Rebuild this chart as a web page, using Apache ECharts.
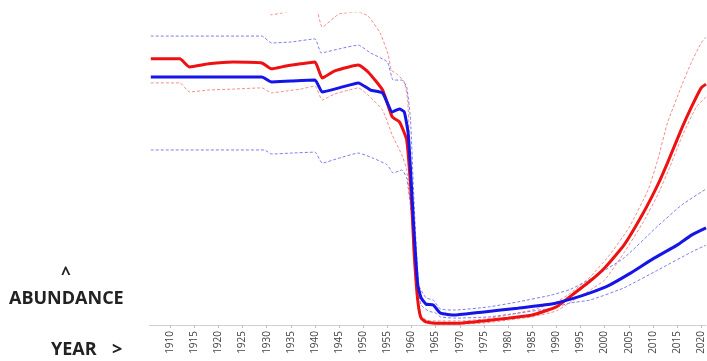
<!DOCTYPE html>
<html>
<head>
<meta charset="utf-8">
<script src="https://cdn.jsdelivr.net/npm/echarts@6/dist/echarts.min.js"></script>
<style>
html,body{margin:0;padding:0;background:#fff;}
#chart{width:707px;height:361px;}
</style>
</head>
<body>
<div id="chart"></div>
<script>
// Axis ticks (years)
const xMin = 1905, xMax = 2021, xStep = 5;

// Red series (central estimate)
const redYears = [1906,1912,1914,1918,1923,1929,1931,1934,1937,1940,1941.5,1944,1947,1949,1951,1954,1956,1957.5,1959,1960,1960.5,1961,1961.5,1962,1963,1965,1970,1975,1980,1985,1990,1993,1997,2000,2004,2008,2011,2013,2016,2018,2020,2021];
const redValues = [85.3,85.3,82.7,83.7,84.3,84.0,82.1,83.0,83.7,84.3,79.2,81.4,82.7,83.3,81.1,75.3,66.7,65.1,59.3,40.1,24.0,12.8,5.4,2.2,1.0,0.6,0.6,1.3,2.2,3.2,5.8,9.3,14.1,18.3,25.6,35.9,44.9,51.9,63.1,69.9,76.0,77.2];

// Red upper bound
const redUpYears = [1906,1912,1914,1929,1931,1934,1940,1941.5,1945,1949,1951,1953.5,1955.2,1955.8,1957,1958.5,1959.2,1959.6,1960,1960.5,1961,1961.5,1962,1963,1965,1970,1975,1980,1985,1990,1993,1997,2001,2005,2009,2011,2013,2016,2018,2020,2021];
const redUpValues = [107.4,107.4,104.2,103.5,99.4,100.3,102.2,95.5,99.7,100.3,99.0,93.6,86.5,81.7,80.4,77.9,72.1,59.3,43.3,25.6,13.5,6.4,3.2,1.6,1.3,1.3,1.9,3.2,4.8,7.4,10.3,15.4,22.4,31.1,43.3,52.9,64.7,76.9,84.3,90.4,92.3];

// Red lower bound
const redLoYears = [1906,1912,1914,1918,1923,1929,1931,1934,1937,1940,1941.5,1944,1947,1949,1951,1954,1956,1958,1959,1960,1960.5,1961,1961.5,1962,1963,1965,1970,1975,1980,1985,1990,1993,1997,2000,2004,2008,2011,2013.5,2016,2019,2021];
const redLoValues = [77.6,77.6,74.7,75.3,75.6,76.0,74.4,75.0,75.6,76.6,72.1,74.0,75.3,76.0,73.7,68.9,60.9,54.5,49.7,35.3,20.8,9.6,4.2,1.6,0.6,0.3,0.3,0.6,1.6,2.6,4.5,7.4,11.2,14.4,23.1,33.0,41.7,50.6,60.3,69.9,73.1];

// Blue series (central estimate)
const blueYears = [1906,1929,1931,1935,1940,1941.5,1945,1949,1951.5,1954,1956,1957.5,1958.5,1959.3,1959.8,1960.5,1961.3,1962,1963,1964.5,1966,1969,1975,1982,1989,1993,1997,2001,2005,2010,2015,2018,2021];
const blueValues = [79.5,79.5,77.9,78.2,78.5,74.7,76.0,77.6,75.3,74.4,68.3,69.2,68.3,61.5,49.7,30.4,12.8,8.7,6.7,6.4,3.8,3.2,4.2,5.4,6.7,8.3,10.3,12.8,16.3,21.2,25.6,28.8,31.1];

// Blue upper bound
const blueUpYears = [1906,1929,1931,1935,1940,1941.3,1945,1949,1951.5,1955,1956.2,1958,1959,1959.8,1960.5,1961.5,1963,1964.5,1966,1969,1976,1982,1989,1993,1997,2004,2011,2016,2021];
const blueUpValues = [92.6,92.6,90.4,90.7,91.7,87.2,88.5,89.7,87.2,84.3,78.5,78.5,76.3,65.7,40.1,12.8,8.7,8.0,5.1,4.8,5.8,7.4,9.6,11.5,14.7,21.5,31.7,38.5,43.6];

// Blue lower bound
const blueLoYears = [1906,1929.5,1931,1935,1940,1941.5,1945,1949,1952,1955,1956.2,1958,1959,1960,1961,1962,1963.5,1965,1966,1969,1976,1982,1989,1993,1997,2004,2011,2018,2021];
const blueLoValues = [56.1,56.1,54.8,55.1,55.4,51.9,53.5,55.1,53.5,51.3,48.7,49.7,47.1,35.3,14.4,6.4,4.5,3.8,2.6,2.2,2.6,3.8,5.4,7.1,8.0,11.9,17.6,23.4,25.6];

function pairs(xs, ys){ return xs.map((x,i)=>[x, ys[i]]); }

const chart = echarts.init(document.getElementById('chart'), null, {renderer:'canvas'});

function solid(name, xs, ys, color){
  return {name, type:'line', data:pairs(xs,ys), showSymbol:false, smooth:0.15,
    lineStyle:{color, width:3}, z:5, clip:true};
}
function band(name, xs, ys, color){
  return {name, type:'line', data:pairs(xs,ys), showSymbol:false, smooth:0.15,
    lineStyle:{color, width:1, type:[3,2]}, z:3, clip:true};
}

chart.setOption({
  animation:false,
  backgroundColor:'#ffffff',
  grid:{left:146, right:1, top:13, bottom:36},
  xAxis:{
    type:'value', min:xMin, max:xMax, interval:xStep,
    axisLine:{show:true, lineStyle:{color:'#cfcfcf', width:1}},
    axisTick:{show:true, length:3, lineStyle:{color:'#bdbdbd'}},
    splitLine:{show:false},
    axisLabel:{rotate:90, fontSize:10, color:'#444', fontFamily:'Open Sans', margin:6,
      formatter:v=>String(v), showMaxLabel:false}
  },
  yAxis:{type:'value', min:0, max:100, show:false, splitLine:{show:false}},
  series:[
    band('Blue upper', blueUpYears, blueUpValues, 'rgba(70,70,225,0.7)'),
    band('Blue lower', blueLoYears, blueLoValues, 'rgba(70,70,225,0.7)'),
    band('Red upper', redUpYears, redUpValues, 'rgba(240,90,90,0.7)'),
    band('Red lower', redLoYears, redLoValues, 'rgba(240,90,90,0.7)'),
    solid('Red', redYears, redValues, '#ee1111'),
    solid('Blue', blueYears, blueValues, '#1515e8')
  ],
  graphic:[
    {type:'rect', left:0, top:0, shape:{width:149, height:361}, style:{fill:'#ffffff'}, z:100},
    {type:'text', left:61, top:267, style:{text:'^', font:'bold 17px "Open Sans"', fill:'#222'}, z:101},
    {type:'text', left:9, top:290, style:{text:'ABUNDANCE', font:'bold 18px "Open Sans"', fill:'#222'}, z:101},
    {type:'text', left:51, top:341, style:{text:'YEAR', font:'bold 18px "Open Sans"', fill:'#222'}, z:101},
    {type:'text', left:112, top:341, style:{text:'>', font:'bold 18px "Open Sans"', fill:'#222'}, z:101}
  ]
});
</script>
</body>
</html>
